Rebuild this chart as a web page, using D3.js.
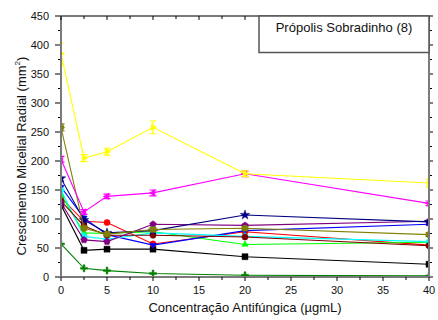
<!DOCTYPE html>
<html>
<head>
<meta charset="utf-8">
<script src="https://cdn.jsdelivr.net/npm/d3@7"></script>
<style>
  html, body { margin: 0; padding: 0; background: #fff; }
  svg { display: block; font-family: "Liberation Sans", Arial, sans-serif; }
</style>
</head>
<body>
<svg id="chart" width="438" height="320"></svg>
<script>
// Concentrations (µg/mL) at which radial growth was measured
const concentrations = [0, 2.5, 5, 10, 20, 40];

// Radial mycelial growth (mm²) for each strain
const blackSeries   = [124, 46, 48, 48, 35, 22];
const redSeries     = [137, 96, 94, 57, 78, 55];
const limeSeries    = [142, 76, 75, 78, 56, 60];
const blueSeries    = [155, 102, 73, 55, 80, 91];
const cyanSeries    = [150, 70, 65, 76, 70, 61];
const magentaSeries = [203, 112, 139, 145, 178, 127];
const yellowSeries  = [385, 205, 216, 258, 178, 162];
const oliveSeries   = [258, 84, 74, 82, 84, 73];
const navySeries    = [170, 98, 76, 80, 107, 95];
const purpleSeries  = [128, 64, 61, 91, 89, 96];
const wineSeries    = [131, 88, 72, 72, 69, 54];
const greenSeries   = [57, 15, 11, 6, 3, 2];

// Standard deviations where they show beyond the symbols
const yellowErr  = [18, 6, 6, 11, 5, 7];
const magentaErr = [5, 4, 4, 5, 5, 4];
const oliveErr   = [6, 3, 3, 3, 3, 3];

const xTicks = [0, 5, 10, 15, 20, 25, 30, 35, 40];
const yTicks = [0, 50, 100, 150, 200, 250, 300, 350, 400, 450];

const legendTitle = "Própolis Sobradinho (8)";
const xTitle = "Concentração Antifúngica (µgmL)";
const yTitle = "Crescimento Micelial Radial (mm";

// Series table: values with their drawing style
const series = [
  { values: blackSeries,   color: "#000000", symbol: "square" },
  { values: redSeries,     color: "#ff0000", symbol: "circle" },
  { values: limeSeries,    color: "#00ff00", symbol: "triUp" },
  { values: blueSeries,    color: "#0000ff", symbol: "triDown" },
  { values: cyanSeries,    color: "#00ffff", symbol: "diamond" },
  { values: wineSeries,    color: "#800000", symbol: "circle" },
  { values: purpleSeries,  color: "#800080", symbol: "pentagon" },
  { values: navySeries,    color: "#000080", symbol: "star" },
  { values: oliveSeries,   color: "#808000", symbol: "hexagon", err: oliveErr },
  { values: greenSeries,   color: "#008000", symbol: "plus" },
  { values: magentaSeries, color: "#ff00ff", symbol: "triLeft", err: magentaErr },
  { values: yellowSeries,  color: "#ffff00", symbol: "triRight", err: yellowErr }
];

const W = 438, H = 320;
const margin = { left: 61, right: 9, top: 16, bottom: 43 };
const x = d3.scaleLinear().domain([0, 40]).range([margin.left, W - margin.right]);
const y = d3.scaleLinear().domain([0, 450]).range([H - margin.bottom, margin.top]);

const svg = d3.select("#chart");

svg.append("defs").append("clipPath").attr("id", "plotClip")
  .append("rect")
  .attr("x", x(0)).attr("y", y(450))
  .attr("width", x(40) - x(0)).attr("height", y(0) - y(450));

// Marker path builders
function polygon(n, r, rot) {
  const pts = [];
  for (let i = 0; i < n; i++) {
    const a = rot + i * 2 * Math.PI / n;
    pts.push([r * Math.cos(a), r * Math.sin(a)]);
  }
  return "M" + pts.map(p => p.join(",")).join("L") + "Z";
}
function markerPath(kind) {
  const r = 3;
  switch (kind) {
    case "square":   return `M${-r},${-r}H${r}V${r}H${-r}Z`;
    case "circle":   return d3.symbol(d3.symbolCircle, 30)();
    case "triUp":    return polygon(3, 3.7, -Math.PI / 2);
    case "triDown":  return polygon(3, 3.7, Math.PI / 2);
    case "triLeft":  return polygon(3, 3.7, Math.PI);
    case "triRight": return polygon(3, 3.7, 0);
    case "diamond":  return polygon(4, 3.8, 0);
    case "pentagon": return polygon(5, 3.5, -Math.PI / 2);
    case "hexagon":  return polygon(6, 3.5, 0);
    case "star":     return d3.symbol(d3.symbolStar, 28)();
    case "plus":     return `M-3.5,-0.9H-0.9V-3.5H0.9V-0.9H3.5V0.9H0.9V3.5H-0.9V0.9H-3.5Z`;
  }
}

const plot = svg.append("g").attr("clip-path", "url(#plotClip)");

const line = d3.line()
  .x((d, i) => x(concentrations[i]))
  .y(d => y(d));

series.forEach(s => {
  const g = plot.append("g");
  g.append("path")
    .attr("d", line(s.values))
    .attr("fill", "none")
    .attr("stroke", s.color)
    .attr("stroke-width", 1.1);

  if (s.err) {
    s.values.forEach((v, i) => {
      const cx = x(concentrations[i]);
      const y1 = y(v + s.err[i]), y2 = y(v - s.err[i]);
      g.append("path")
        .attr("d", `M${cx},${y1}V${y2}M${cx - 3.5},${y1}H${cx + 3.5}M${cx - 3.5},${y2}H${cx + 3.5}`)
        .attr("fill", "none")
        .attr("stroke", s.color)
        .attr("stroke-width", 1.2);
    });
  }

  g.selectAll("path.marker")
    .data(s.values)
    .join("path")
    .attr("class", "marker")
    .attr("transform", (d, i) => `translate(${x(concentrations[i])},${y(d)})`)
    .attr("d", markerPath(s.symbol))
    .attr("fill", s.color)
    .attr("stroke", s.color)
    .attr("stroke-width", 0.5);
});

// Frame and axes
const axisColor = "#7a7a7a";
const frame = svg.append("g");
frame.append("rect")
  .attr("x", x(0)).attr("y", y(450))
  .attr("width", x(40) - x(0)).attr("height", y(0) - y(450))
  .attr("fill", "none").attr("stroke", axisColor).attr("stroke-width", 2);

const xMinor = d3.range(0, 40.01, 2.5);
const yMinor = d3.range(0, 450.01, 25);

// bottom ticks (outward) and top ticks (inward)
xMinor.forEach(t => {
  const major = t % 5 === 0;
  frame.append("line")
    .attr("x1", x(t)).attr("x2", x(t))
    .attr("y1", y(0)).attr("y2", y(0) + (major ? 4 : 3))
    .attr("stroke", "#000").attr("stroke-width", 1);
  frame.append("line")
    .attr("x1", x(t)).attr("x2", x(t))
    .attr("y1", y(450)).attr("y2", y(450) + (major ? 4 : 3))
    .attr("stroke", "#000").attr("stroke-width", 1);
});
// left ticks (outward) and right ticks
yMinor.forEach(t => {
  const major = t % 50 === 0;
  frame.append("line")
    .attr("x1", x(0) - (major ? 6 : 3)).attr("x2", x(0) - 1)
    .attr("y1", y(t)).attr("y2", y(t))
    .attr("stroke", "#000").attr("stroke-width", 1);
  frame.append("line")
    .attr("x1", x(40) + 1).attr("x2", x(40) + (major ? 4 : 3))
    .attr("y1", y(t)).attr("y2", y(t))
    .attr("stroke", "#000").attr("stroke-width", 1);
});

// Tick labels
svg.append("g").selectAll("text")
  .data(xTicks).join("text")
  .attr("x", d => x(d)).attr("y", y(0) + 17)
  .attr("text-anchor", "middle")
  .attr("font-size", 11)
  .attr("fill", "#111")
  .text(d => d);

svg.append("g").selectAll("text")
  .data(yTicks).join("text")
  .attr("x", x(0) - 12).attr("y", d => y(d) + 4)
  .attr("text-anchor", "end")
  .attr("font-size", 11)
  .attr("fill", "#111")
  .text(d => d);

// Axis titles
svg.append("text")
  .attr("x", (x(0) + x(40)) / 2).attr("y", 312)
  .attr("text-anchor", "middle")
  .attr("font-size", 13)
  .attr("fill", "#111")
  .text(xTitle);

const yt = svg.append("text")
  .attr("transform", `translate(26,156) rotate(-90)`)
  .attr("text-anchor", "middle")
  .attr("font-size", 13)
  .attr("fill", "#111");
yt.append("tspan").text(yTitle);
yt.append("tspan").attr("font-size", 8).attr("dy", -6).text("2");
yt.append("tspan").attr("dy", 6).text(")");

// Title box in the upper right corner
const boxX0 = 259, boxX1 = x(40), boxY0 = y(450), boxY1 = 52.5;
svg.append("rect")
  .attr("x", boxX0).attr("y", boxY0)
  .attr("width", boxX1 - boxX0).attr("height", boxY1 - boxY0)
  .attr("fill", "#fff").attr("stroke", "#555").attr("stroke-width", 1.5);
svg.append("text")
  .attr("x", (boxX0 + boxX1) / 2).attr("y", 32)
  .attr("text-anchor", "middle")
  .attr("font-size", 13)
  .attr("fill", "#111")
  .text(legendTitle);
</script>
</body>
</html>
